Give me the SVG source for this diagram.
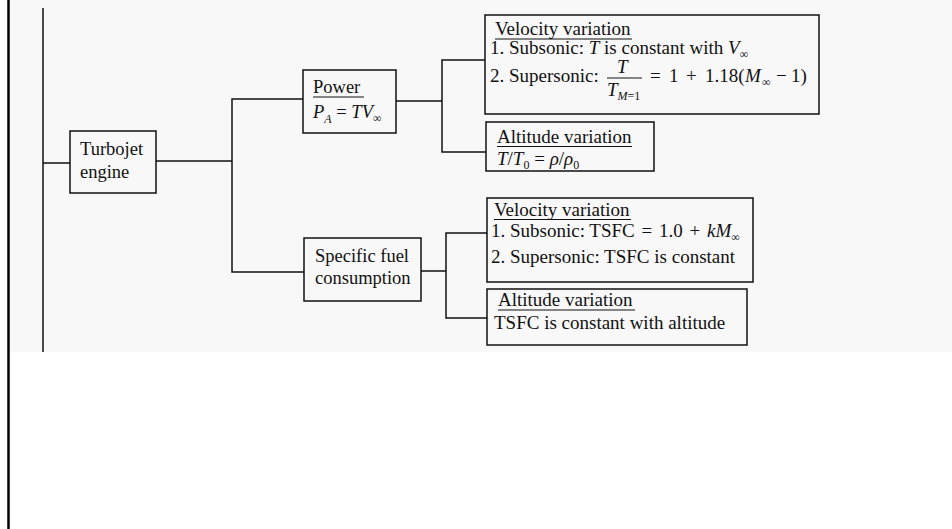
<svg xmlns="http://www.w3.org/2000/svg" width="952" height="529" viewBox="0 0 952 529">
<style>
.box{fill:none;stroke:#111;stroke-width:1.5}
.c path{fill:none;stroke:#111;stroke-width:1.5}
text{font-family:"Liberation Serif","Times New Roman",serif;font-size:19px;fill:#111}
.n{font-size:18.5px}
.i{font-style:italic}
.s{font-size:12px}
.u{stroke:#111;stroke-width:1.2}
</style>
<rect width="952" height="529" fill="#fff"/>
<rect x="10" y="0" width="942" height="352" fill="#f8f8f8"/>
<line x1="8.5" y1="0" x2="8.5" y2="529" stroke="#000" stroke-width="2.5"/>
<g id="connectors" class="c">
<path d="M43 8V352"/>
<path d="M43 163H70"/>
<path d="M156 161H232"/>
<path d="M303 99H232V272H304"/>
<path d="M396 101H442"/>
<path d="M485 60H442V152H486"/>
<path d="M421 271H446"/>
<path d="M487 233H446V318H487"/>
</g>
<g id="turbojet">
<rect class="box" x="70" y="131" width="86" height="62"/>
<text class="n" x="80" y="155">Turbojet</text>
<text class="n" x="80" y="178">engine</text>
</g>
<g id="power">
<rect class="box" x="303" y="70" width="93" height="63"/>
<text class="n" x="313" y="93">Power</text>
<line class="u" x1="313" y1="97" x2="364" y2="97"/>
<text class="n" x="313" y="118"><tspan class="i">P</tspan><tspan class="i s" dy="5">A</tspan><tspan dy="-5"> = </tspan><tspan class="i">TV</tspan><tspan class="s" dy="4">∞</tspan></text>
</g>
<g id="sfc">
<rect class="box" x="304" y="238" width="117" height="63"/>
<text class="n" x="315" y="262">Specific fuel</text>
<text class="n" x="315" y="284">consumption</text>
</g>
<g id="thrust-velocity">
<rect class="box" x="485" y="15" width="334" height="99"/>
<text x="495" y="35">Velocity variation</text>
<line class="u" x1="495" y1="39" x2="632" y2="39"/>
<text x="490" y="54">1. Subsonic: <tspan class="i">T</tspan> is constant with <tspan class="i">V</tspan><tspan class="s" dy="4">∞</tspan></text>
<text x="490" y="82">2. Supersonic:</text>
<text x="617" y="73" class="i">T</text>
<line class="u" x1="607" y1="78" x2="642" y2="78"/>
<text x="607" y="96"><tspan class="i">T</tspan><tspan class="i s" dy="4">M</tspan><tspan class="s">=1</tspan></text>
<text x="650" y="82">=</text>
<text x="669" y="82">1</text>
<text x="686" y="82">+</text>
<text x="705" y="82">1.18(</text>
<text x="745" y="82" class="i">M</text>
<text x="762" y="86" class="s">∞</text>
<text x="776" y="82">−</text>
<text x="791" y="82">1)</text>
</g>
<g id="thrust-altitude">
<rect class="box" x="486" y="122" width="168" height="49"/>
<text x="497" y="143">Altitude variation</text>
<line class="u" x1="497" y1="146.5" x2="632" y2="146.5"/>
<text x="497" y="165"><tspan class="i">T</tspan>/<tspan class="i">T</tspan><tspan class="s" dy="4">0</tspan><tspan dy="-4"> = </tspan><tspan class="i">ρ</tspan>/<tspan class="i">ρ</tspan><tspan class="s" dy="4">0</tspan></text>
</g>
<g id="tsfc-velocity">
<rect class="box" x="487" y="198" width="266" height="84"/>
<text x="494" y="216">Velocity variation</text>
<line class="u" x1="494" y1="219.5" x2="631" y2="219.5"/>
<text x="491" y="237">1. Subsonic: TSFC <tspan dx="2">=</tspan> <tspan dx="2">1.0</tspan> <tspan dx="2">+</tspan> <tspan class="i" dx="2">kM</tspan><tspan class="s" dy="4">∞</tspan></text>
<text x="491" y="263">2. Supersonic: TSFC is constant</text>
</g>
<g id="tsfc-altitude">
<rect class="box" x="487" y="289" width="260" height="56"/>
<text x="498" y="306">Altitude variation</text>
<line class="u" x1="498" y1="310" x2="635" y2="310"/>
<text x="494" y="329">TSFC is constant with altitude</text>
</g>
</svg>
